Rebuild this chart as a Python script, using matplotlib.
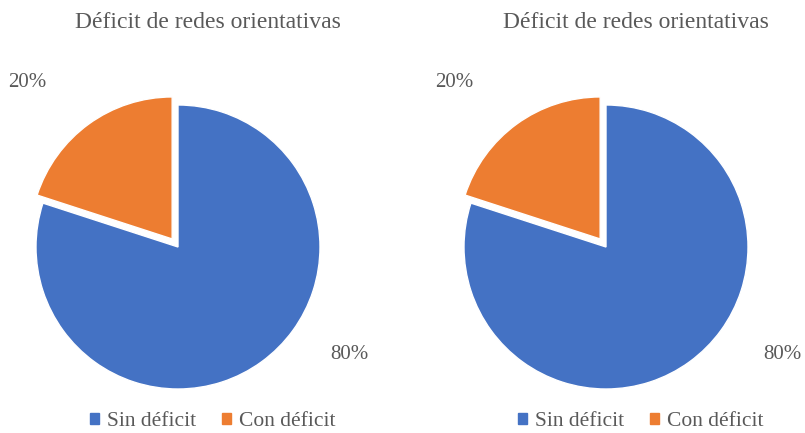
import matplotlib.pyplot as plt
from matplotlib.patches import Patch

plt.rcParams['font.family'] = ['Liberation Serif', 'DejaVu Serif']

title = "Déficit de redes orientativas"
categories = ["Sin déficit", "Con déficit"]
values = [80, 20]
colors = ['#4472C4', '#ED7D31']
explode = [0, 0.07]
text_color = '#595959'

W, H = 805, 433
fig = plt.figure(figsize=(W / 100, H / 100), dpi=100)

R = 142  # pie radius in pixels
box = 340  # axes size in pixels
centers = [(178, 247), (606, 247)]
title_x = [208, 636]
legend_x = [213, 641]
# label positions relative to pie centre, in radius units
label_pos = [[(1.21, -0.76), (-1.06, 1.16)], [(1.24, -0.76), (-1.07, 1.16)]]

for i, (cx, cy) in enumerate(centers):
    ax = fig.add_axes([(cx - box / 2) / W, (H - cy - box / 2) / H, box / W, box / H])
    ax.pie(values, colors=colors, explode=explode, startangle=90, counterclock=False,
           radius=1, wedgeprops=dict(edgecolor='white', linewidth=1))
    lim = box / 2 / R
    ax.set_xlim(-lim, lim)
    ax.set_ylim(-lim, lim)
    ax.set_aspect('equal')
    ax.axis('off')
    for v, (lx, ly) in zip(values, label_pos[i]):
        ax.text(lx, ly, f"{v}%", ha='center', va='center', fontsize=15, color=text_color)

    fig.text(title_x[i] / W, 1 - 22 / H, title, ha='center', va='center',
             fontsize=17, color=text_color)

    handles = [Patch(color=c, label=l) for c, l in zip(colors, categories)]
    fig.legend(handles=handles, loc='center', bbox_to_anchor=(legend_x[i] / W, 1 - 422 / H),
               ncol=2, frameon=False, fontsize=15.5, labelcolor=text_color,
               handlelength=0.4, handleheight=0.4, handletextpad=0.4, columnspacing=1.2,
               borderpad=0, borderaxespad=0)

fig.savefig('out.png', dpi=100, facecolor='white')
